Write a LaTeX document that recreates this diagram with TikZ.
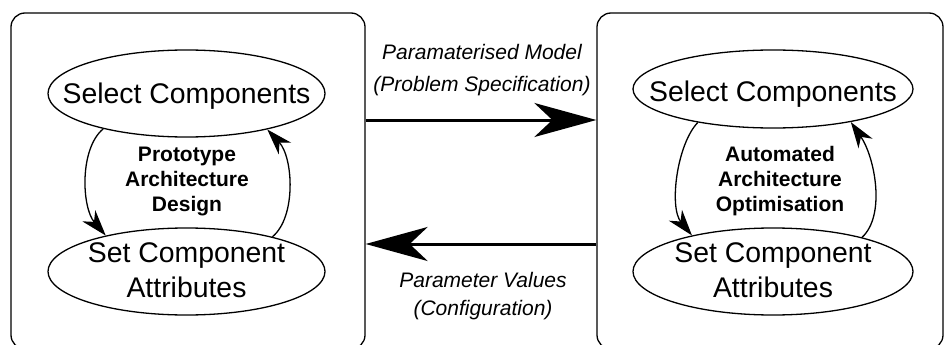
\documentclass[tikz,border=0pt]{standalone}
\usepackage{fontspec}
\setmainfont{Liberation Sans}
\usetikzlibrary{shapes.geometric,arrows.meta}

\tikzset{
  panel/.style={draw, line width=1.3pt, rounded corners=14pt, rectangle,
                minimum width=#1, minimum height=336pt, inner sep=0pt},
  oval/.style={draw, ellipse, line width=1.3pt, inner sep=0pt,
               minimum width=277pt, minimum height=#1},
  steptext/.style={font=\fontsize{28.4}{35}\selectfont, align=center, inner sep=0pt},
  looptext/.style={font=\bfseries\fontsize{21}{25}\selectfont, align=center, inner sep=0pt},
  flowtext/.style={font=\itshape\fontsize{21}{#1}\selectfont, align=center, inner sep=0pt},
  flowarrow/.style={line width=3pt, -{Stealth[length=62pt,width=34pt,inset=18pt]}},
  looparrow/.style={line width=1.3pt, -{Stealth[length=26pt,width=17pt,inset=8pt]}}
}

\begin{document}
\begin{tikzpicture}[x=1pt,y=-1pt]
  \useasboundingbox (0,0) rectangle (945,345);
  \clip (0,0) rectangle (945,345);

  % the two design stages
  \node[panel=354pt] (lbox) at (188,181) {};
  \node[panel=346pt] (rbox) at (770,181) {};

  % manual prototyping loop
  \node[oval=87pt] (tl) at (186.5,93.5) {};
  \node[oval=87pt] (bl) at (186.5,271.5) {};
  \node[steptext, anchor=base] (tltext) at (186.5,103) {Select Components};
  \node[steptext] (bltext) at (186.5,270.5) {Set Component\\Attributes};
  \node[looptext] (ltitle) at (187,181.5) {Prototype\\Architecture\\Design};
  \draw[looparrow] (tl.203) .. controls +(-24,20) and +(-24,-28) .. (bl.156);
  \draw[looparrow] (bl.22) .. controls +(24,-20) and +(26,28) .. (tl.-24);

  % automated optimisation loop
  \node[oval=78pt, minimum width=280pt] (tr) at (773,89) {};
  \node[oval=87pt, minimum width=280pt] (br) at (773,271.5) {};
  \node[steptext, anchor=base] (trtext) at (773,101) {Select Components};
  \node[steptext] (brtext) at (773,270.5) {Set Component\\Attributes};
  \node[looptext] (rtitle) at (780,181.5) {Automated\\Architecture\\Optimisation};
  \draw[looparrow] (tr.204) .. controls +(-21,22) and +(-23,-28) .. (br.156);
  \draw[looparrow] (br.21) .. controls +(24,-22) and +(24,35) .. (tr.-23);

  % exchange between the stages
  \draw[flowarrow] (lbox.east |- 0,120) -- (rbox.west |- 0,120);
  \draw[flowarrow] (rbox.west |- 0,244) -- (lbox.east |- 0,244);
  \node[flowtext=32] (fwd) at (482,70.5) {Paramaterised Model\\(Problem Specification)};
  \node[flowtext=28] (back) at (483,295.6) {Parameter Values\\(Configuration)};
\end{tikzpicture}
\end{document}
